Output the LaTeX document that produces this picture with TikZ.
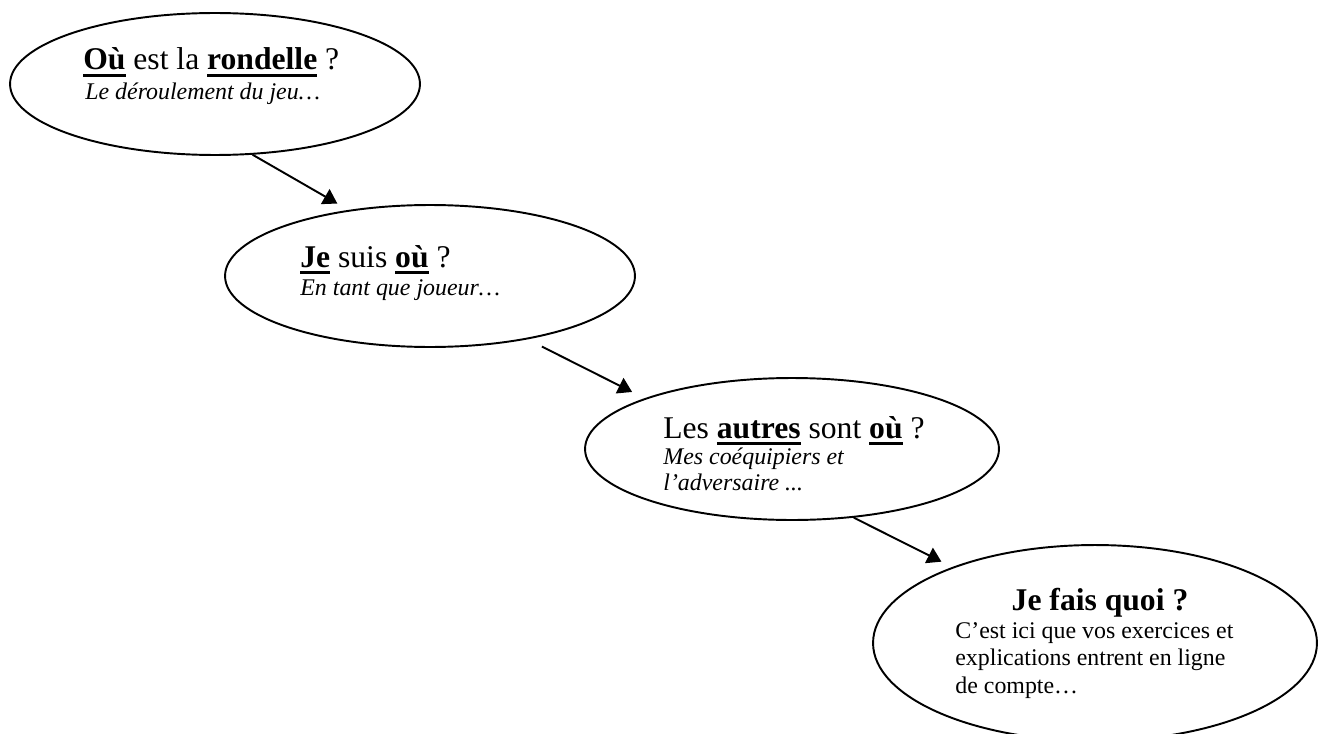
\documentclass[tikz,border=0pt]{standalone}
\usepackage{fontspec}
\setmainfont{Liberation Serif}
\usetikzlibrary{shapes.geometric,arrows.meta}
\newcommand{\thul}[1]{\setbox0=\hbox{\textbf{#1}}\rlap{\rule[-3.8pt]{\wd0}{1.7pt}}\box0\relax}

\begin{document}
\begin{tikzpicture}[x=0.02cm,y=-0.02cm]

    \tikzset{
      bubble/.style={
        draw,
        ellipse,
        line width=1.1pt,
        inner sep=0pt,
        minimum width=8.2cm,
        minimum height=2.84cm,
      },
      txt/.style={inner sep=0pt,anchor=base west,align=left},
      big/.style={font=\fontsize{18}{20}\selectfont},
      small/.style={font=\fontsize{13.6}{15.6}\selectfont},
      link/.style={line width=1.1pt,-{Triangle[length=0.28cm,width=0.34cm]}},
    }
    \useasboundingbox (0,0) rectangle (1337,733);
    \clip (0,0) rectangle (1337,733);

	\node[bubble] (rondelle) at (215,84) {};
	\node[bubble] (joueur) at (430,276) {};
	\node[bubble,minimum width=8.28cm] (autres) at (792,449) {};
	\node[bubble,minimum width=8.88cm,minimum height=3.92cm] (quoi) at (1095,643) {};

	% titres et sous-titres (base = derniere ligne)
	\node[txt,big] (rondelleA) at (83,70) {\thul{Où} est la \thul{rondelle} ?};
	\node[txt,small] (rondelleB) at (85,100) {\itshape Le déroulement du jeu…};
	\node[txt,big] (joueurA) at (300,267) {\thul{Je} suis \thul{où} ?};
	\node[txt,small] (joueurB) at (300,295) {\itshape En tant que joueur…};
	\node[txt,big] (autresA) at (663,438) {Les \thul{autres} sont \thul{où} ?};
	\node[txt,font=\fontsize{13.6}{14.7}\selectfont\itshape] (autresB) at (663,490) {Mes coéquipiers et\\l’adversaire ...};
	\node[inner sep=0pt,anchor=base,font=\fontsize{18}{20}\selectfont\bfseries] (quoiA) at (1100,610) {Je fais quoi ?};
	\node[txt,small] (quoiB) at (955,693) {C’est ici que vos exercices et\\explications entrent en ligne\\de compte…};

	\draw[link,shorten >=0.256cm] (rondelle.-62.5) -- (joueur.141.6);
	\draw[link,shorten <=0.32cm,shorten >=0.28cm] (joueur.-33.9) -- (autres.161.35);
	\draw[link,shorten >=0.24cm] (autres.-48.6) -- (quoi.152.7);

\end{tikzpicture}
\end{document}
